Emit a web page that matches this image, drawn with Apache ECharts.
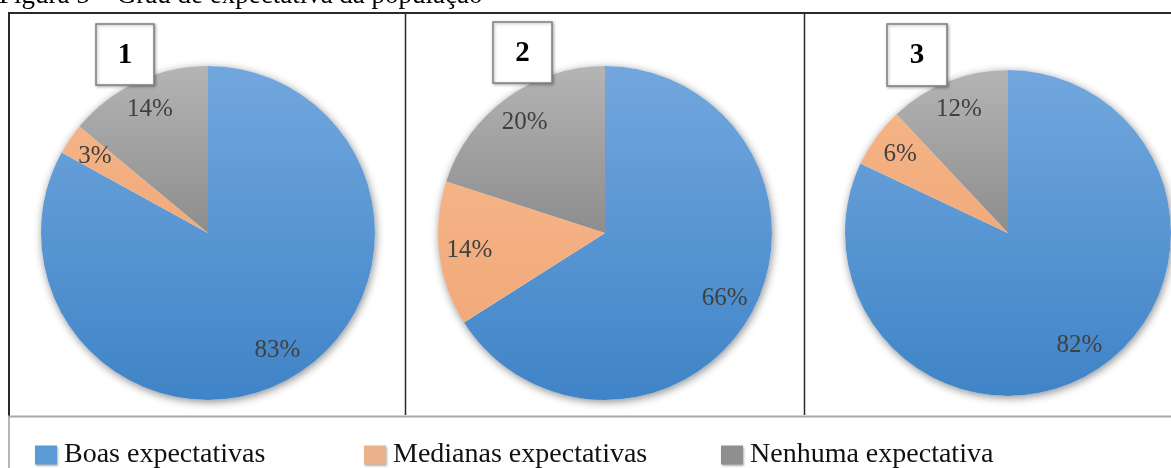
<!DOCTYPE html>
<html>
<head>
<meta charset="utf-8">
<script src="https://cdn.jsdelivr.net/npm/echarts@6/dist/echarts.min.js"></script>
<style>
html,body{margin:0;padding:0;background:#fff;}
#chart{width:1171px;height:468px;}
</style>
</head>
<body>
<div id="chart"></div>
<script>
// ---- data ----
const categories = ['Boas expectativas', 'Medianas expectativas', 'Nenhuma expectativa'];
const panel1Values = [83, 3, 14];
const panel2Values = [66, 14, 20];
const panel3Values = [82, 6, 12];
const panelNames = ['1', '2', '3'];
const figureTitle = 'Figura 5 – Grau de expectativa da população';

// ---- styles ----
const SERIF = '"Liberation Serif", "Times New Roman", serif';
const sliceColors = [
  {type:'linear', x:0, y:0, x2:0, y2:1, colorStops:[{offset:0,color:'#72a7de'},{offset:1,color:'#3f84c7'}]},
  {type:'linear', x:0, y:0, x2:0, y2:1, colorStops:[{offset:0,color:'#f5b386'},{offset:1,color:'#f1aa7a'}]},
  {type:'linear', x:0, y:0, x2:0, y2:1, colorStops:[{offset:0,color:'#b4b4b4'},{offset:1,color:'#8d8d8d'}]}
];
const legendColors = ['#5b9bd5', '#eab18c', '#8f8f8f'];

const panels = [
  {values: panel1Values, center: [208, 233], r: 167, box: [96, 24, 58, 61]},
  {values: panel2Values, center: [605, 233], r: 167, box: [493, 22, 59, 61]},
  {values: panel3Values, center: [1008, 233], r: 163, box: [887, 24, 60, 62]}
];

const series = [];
panels.forEach((p, i) => {
  const total = p.values.reduce((a, b) => a + b, 0);
  // shadow disc behind the pie
  series.push({
    type: 'pie', silent: true, center: p.center, radius: [0, p.r],
    label: {show: false}, labelLine: {show: false}, z: 1,
    itemStyle: {color: '#ffffff', shadowBlur: 9, shadowColor: 'rgba(0,0,0,0.45)', shadowOffsetX: 1, shadowOffsetY: 2},
    data: [{name: '__bg' + i, value: total}]
  });
  // the pie slices
  series.push({
    type: 'pie', center: p.center, radius: [0, p.r], startAngle: 90, clockwise: true,
    label: {show: false}, labelLine: {show: false}, z: 2,
    emphasis: {disabled: true},
    data: categories.map((c, k) => ({name: c, value: p.values[k], itemStyle: {color: sliceColors[k]}}))
  });
  // labels ring (transparent), places labels at ~0.8 r
  series.push({
    type: 'pie', silent: true, center: p.center, radius: [p.r * 0.6, p.r], startAngle: 90, clockwise: true,
    z: 3, labelLine: {show: false},
    itemStyle: {color: 'rgba(0,0,0,0)'},
    label: {show: true, position: 'inside', formatter: '{c}%', fontFamily: SERIF, fontSize: 25, color: '#404040'},
    data: categories.map((c, k) => ({name: c + ' ', value: p.values[k]}))
  });
});

const graphic = [
  // figure title (cut at top)
  {type: 'text', x: -1, y: -4, z: 10, style: {text: figureTitle, font: '27px ' + SERIF, fill: '#000', textVerticalAlign: 'middle'}},
  // frame
  {type: 'line', shape: {x1: 8, y1: 13, x2: 1171, y2: 13}, style: {stroke: '#2a2a2a', lineWidth: 2}},
  {type: 'line', shape: {x1: 9, y1: 12, x2: 9, y2: 416}, style: {stroke: '#2a2a2a', lineWidth: 2}},
  {type: 'line', shape: {x1: 9, y1: 416, x2: 9, y2: 468}, style: {stroke: '#b5b5b5', lineWidth: 2}},
  {type: 'line', shape: {x1: 405.5, y1: 13, x2: 405.5, y2: 415}, style: {stroke: '#2a2a2a', lineWidth: 1.5}},
  {type: 'line', shape: {x1: 804.5, y1: 13, x2: 804.5, y2: 415}, style: {stroke: '#2a2a2a', lineWidth: 1.5}},
  {type: 'line', shape: {x1: 8, y1: 416.5, x2: 1171, y2: 416.5}, style: {stroke: '#a8a8a8', lineWidth: 2}}
];
panels.forEach((p, i) => {
  const b = p.box;
  graphic.push({
    type: 'rect', z: 20, shape: {x: b[0], y: b[1], width: b[2], height: b[3]},
    style: {fill: '#fff', stroke: '#7f7f7f', lineWidth: 1.5, shadowBlur: 3, shadowColor: 'rgba(0,0,0,0.3)', shadowOffsetX: 1, shadowOffsetY: 1}
  });
  graphic.push({
    type: 'text', z: 21, x: b[0] + b[2] / 2, y: b[1] + b[3] / 2 + 1,
    style: {text: panelNames[i], font: 'bold 29px ' + SERIF, fill: '#000', textAlign: 'center', textVerticalAlign: 'middle'}
  });
});

const legendLefts = [30, 359, 716];
const legend = categories.map((c, k) => ({
  left: legendLefts[k], top: 436, orient: 'horizontal', icon: 'rect',
  itemWidth: 22, itemHeight: 19, selectedMode: false,
  textStyle: {fontFamily: SERIF, fontSize: 28, color: '#111', padding: [0, 0, 0, 2]},
  data: [{name: c, itemStyle: {color: legendColors[k], shadowBlur: 2, shadowColor: 'rgba(0,0,0,0.3)', shadowOffsetX: 1, shadowOffsetY: 1}}]
}));

const chart = echarts.init(document.getElementById('chart'));
chart.setOption({
  backgroundColor: '#ffffff',
  animation: false,
  legend: legend,
  graphic: graphic,
  series: series
});
</script>
</body>
</html>
